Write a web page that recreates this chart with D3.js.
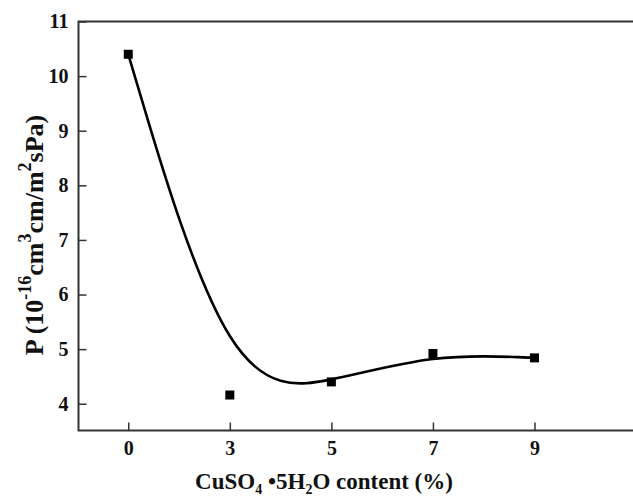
<!DOCTYPE html>
<html>
<head>
<meta charset="utf-8">
<script src="https://cdn.jsdelivr.net/npm/d3@7"></script>
<style>
body { margin: 0; background: #fff; }
text { font-family: "Liberation Serif", "Times New Roman", serif; font-weight: bold; fill: #111; }
</style>
</head>
<body>
<div id="chart"></div>
<script>
// data
var categories = ['0', '3', '5', '7', '9'];
var permeability = [10.4, 4.16, 4.4, 4.92, 4.84];
var yTicks = [4, 5, 6, 7, 8, 9, 10, 11];

var width = 633, height = 498;
var mLeft = 78.5, mTop = 21.5, mRight = 640, mBottom = 430.5;

var svg = d3.select('#chart').append('svg')
    .attr('width', width)
    .attr('height', height);

// categories are evenly spaced, so use index position
var x = d3.scaleLinear()
    .domain([-0.49, 4.97])
    .range([mLeft, 633]);

var y = d3.scaleLinear()
    .domain([3.51, 11])
    .range([mBottom, mTop]);

var pts = permeability.map(function(v, i) { return [i, v]; });

//FRAME
svg.append('rect')
    .attr('x', mLeft)
    .attr('y', mTop)
    .attr('width', mRight - mLeft)
    .attr('height', mBottom - mTop)
    .attr('fill', 'none')
    .attr('stroke', '#333')
    .attr('stroke-width', 2);

//AXES
var xAxis = svg.append('g')
    .attr('transform', 'translate(0,' + mBottom + ')')
    .call(d3.axisBottom(x)
        .tickValues(d3.range(categories.length))
        .tickFormat(function(i) { return categories[i]; })
        .tickSizeInner(-8).tickSizeOuter(0).tickPadding(10));
xAxis.select('.domain').remove();
xAxis.selectAll('line').attr('stroke', '#333').attr('stroke-width', 1.5);
xAxis.selectAll('text').attr('font-size', 20).attr('font-family', null).attr('fill', null);

var yAxis = svg.append('g')
    .attr('transform', 'translate(' + mLeft + ',0)')
    .call(d3.axisLeft(y)
        .tickValues(yTicks)
        .tickFormat(d3.format('d'))
        .tickSizeInner(-8).tickSizeOuter(0).tickPadding(10));
yAxis.select('.domain').remove();
yAxis.selectAll('line').attr('stroke', '#333').attr('stroke-width', 1.5);
yAxis.selectAll('text').attr('font-size', 20).attr('font-family', null).attr('fill', null);

//CURVE (B-spline through the points)
var line = d3.line()
    .x(function(d) { return x(d[0]); })
    .y(function(d) { return y(d[1]); })
    .curve(d3.curveBasis);

svg.append('path')
    .datum(pts)
    .attr('d', line)
    .attr('fill', 'none')
    .attr('stroke', '#000')
    .attr('stroke-width', 2.6);

//MARKERS
svg.selectAll('.pt')
    .data(pts)
  .enter().append('rect')
    .attr('class', 'pt')
    .attr('x', function(d) { return x(d[0]) - 4.5; })
    .attr('y', function(d) { return y(d[1]) - 4.5; })
    .attr('width', 9)
    .attr('height', 9)
    .attr('fill', '#000');

//TITLES
var xt = svg.append('text')
    .attr('x', 324)
    .attr('y', 489)
    .attr('text-anchor', 'middle')
    .attr('font-size', 23);
xt.append('tspan').text('CuSO');
xt.append('tspan').attr('font-size', 14).attr('dy', 5).text('4');
xt.append('tspan').attr('dy', -5).text(' \u20225H');
xt.append('tspan').attr('font-size', 14).attr('dy', 5).text('2');
xt.append('tspan').attr('dy', -5).text('O content (%)');

var yt = svg.append('text')
    .attr('transform', 'translate(43,' + 235 + ') rotate(-90)')
    .attr('text-anchor', 'middle')
    .attr('font-size', 26);
yt.append('tspan').text('P (10');
yt.append('tspan').attr('font-size', 18).attr('dy', -12).text('-16');
yt.append('tspan').attr('dy', 12).text('cm');
yt.append('tspan').attr('font-size', 18).attr('dy', -12).text('3');
yt.append('tspan').attr('dy', 12).text('cm/m');
yt.append('tspan').attr('font-size', 18).attr('dy', -12).text('2');
yt.append('tspan').attr('dy', 12).text('sPa)');
</script>
</body>
</html>
